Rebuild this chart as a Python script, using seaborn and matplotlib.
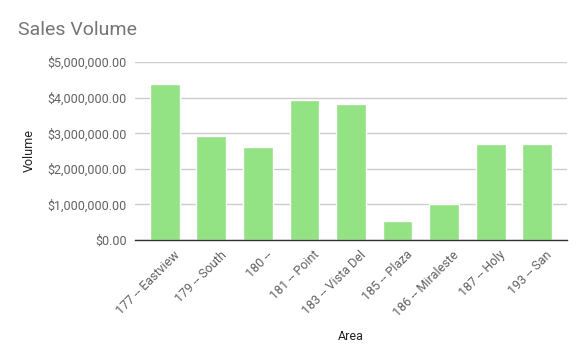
import matplotlib
matplotlib.use("Agg")
import matplotlib.pyplot as plt
import seaborn as sns
import pandas as pd
from matplotlib.ticker import FuncFormatter
from matplotlib.transforms import ScaledTranslation

areas = ["177 -- Eastview", "179 -- South", "180 --", "181 -- Point", "183 -- Vista Del",
         "185 -- Plaza", "186 -- Miraleste", "187 -- Holy", "193 -- San"]
volumes = [4380000, 2920000, 2620000, 3930000, 3820000, 540000, 1010000, 2700000, 2700000]

df = pd.DataFrame({"Area": areas, "Volume": volumes})

sns.set_theme(style="white")
plt.rcParams["font.family"] = ["Roboto", "DejaVu Sans"]

fig = plt.figure(figsize=(5.86, 3.62), dpi=100)
ax = fig.add_axes([135/586, 1-240/362, (567-135)/586, (240-62)/362])

sns.barplot(data=df, x="Area", y="Volume", color="#93e283", saturation=1,
            width=0.645, ax=ax, zorder=3)

ax.set_xlim(-0.645, len(areas) - 1 + 0.645)
ax.set_ylim(0, 5000000)
ax.set_yticks([0, 1000000, 2000000, 3000000, 4000000, 5000000])
ax.yaxis.set_major_formatter(FuncFormatter(lambda v, p: "${:,.2f}".format(v)))
ax.grid(axis="y", color="#cccccc", linewidth=1, zorder=0)
ax.set_axisbelow(True)
for s in ["top", "right", "left"]:
    ax.spines[s].set_visible(False)
ax.spines["bottom"].set_color("#333333")
ax.spines["bottom"].set_linewidth(1)
ax.spines["bottom"].set_zorder(4)

ax.tick_params(axis="y", length=0, pad=6, labelsize=9, labelcolor="#616161")
ax.tick_params(axis="x", length=0, pad=6, labelsize=9, labelcolor="#616161")
offset = ScaledTranslation(6/72, 0, fig.dpi_scale_trans)
for lbl in ax.get_xticklabels():
    lbl.set_rotation(45)
    lbl.set_ha("right")
    lbl.set_rotation_mode("anchor")
    lbl.set_transform(lbl.get_transform() + offset)

ax.set_xlabel("Area", fontsize=9, color="#222222", labelpad=8)
ax.set_ylabel("Volume", fontsize=9, color="#222222", labelpad=8)

fig.text(18/586, 1-30/362, "Sales Volume", fontsize=14, color="#757575", va="center", ha="left")

fig.savefig("out.png", dpi=100)
